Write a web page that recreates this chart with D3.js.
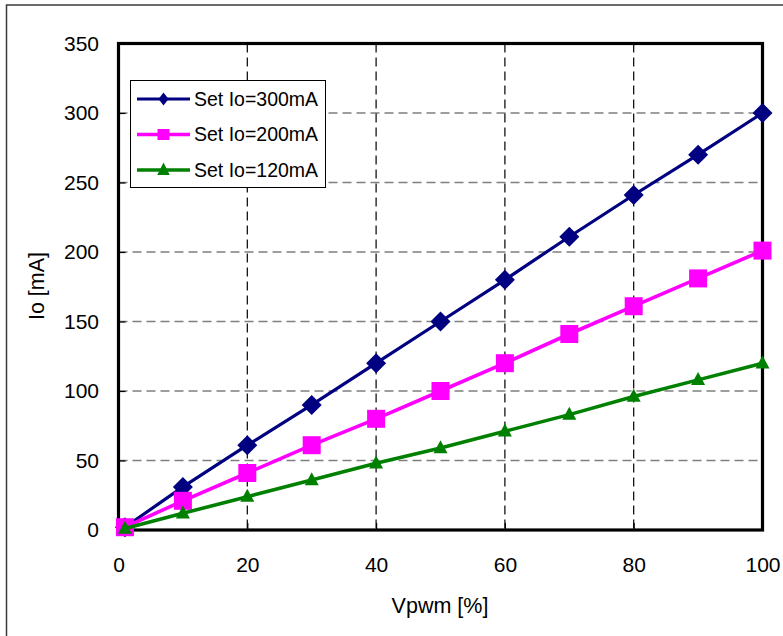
<!DOCTYPE html>
<html>
<head>
<meta charset="utf-8">
<script src="https://cdn.jsdelivr.net/npm/d3@7"></script>
<style>
  html, body { margin: 0; padding: 0; background: #fff; }
  svg { display: block; font-family: Arial, "Liberation Sans", sans-serif; }
</style>
</head>
<body>
<svg id="chart" width="783" height="636"></svg>
<script>
// ---- data ----
const vpwm = [1, 10, 20, 30, 40, 50, 60, 70, 80, 90, 100];
const io300 = [2, 31, 61, 90, 120, 150, 180, 211, 241, 270, 300];
const io200 = [2, 21, 41, 61, 80, 100, 120, 141, 161, 181, 201];
const io120 = [1, 12, 24, 36, 48, 59, 71, 83, 96, 108, 120];
const seriesNames = ["Set Io=300mA", "Set Io=200mA", "Set Io=120mA"];
const xTicks = [0, 20, 40, 60, 80, 100];
const yTicks = [0, 50, 100, 150, 200, 250, 300, 350];
const xTitle = "Vpwm [%]";
const yTitle = "Io [mA]";

// ---- styles ----
const colors = ["#000080", "#FF00FF", "#008000"];
const shapes = ["diamond", "square", "triangle"];
const seriesValues = [io300, io200, io120];

const svg = d3.select("#chart");
const L = 118.5, R = 762.5, T = 43.5, B = 530;
const x = d3.scaleLinear().domain([0, 100]).range([L, R]);
const y = d3.scaleLinear().domain([0, 350]).range([B, T]);

// outer frame
svg.append("rect").attr("x", 6.5).attr("y", 5).attr("width", 900).attr("height", 900)
  .attr("fill", "#fff").attr("stroke", "#3a3a3a").attr("stroke-width", 1.5);

// plot background
svg.append("rect").attr("x", L).attr("y", T).attr("width", R - L).attr("height", B - T).attr("fill", "#fff");

// grid
svg.append("g").selectAll("line").data(yTicks.filter(d => d > 0 && d < 350)).join("line")
  .attr("x1", L).attr("x2", R).attr("y1", d => y(d)).attr("y2", d => y(d))
  .attr("stroke", "#7f7f7f").attr("stroke-width", 1.3).attr("stroke-dasharray", "9,5");
svg.append("g").selectAll("line").data(xTicks.filter(d => d > 0 && d < 100)).join("line")
  .attr("x1", d => x(d)).attr("x2", d => x(d)).attr("y1", T).attr("y2", B)
  .attr("stroke", "#000").attr("stroke-width", 1.2).attr("stroke-dasharray", "9,5");

// axes
const yAxis = d3.axisLeft(y).tickValues(yTicks).tickSize(-7).tickPadding(19.5);
const gy = svg.append("g").attr("transform", `translate(${L},0)`).call(yAxis);
const xAxis = d3.axisBottom(x).tickValues(xTicks).tickSize(-7).tickPadding(27);
const gx = svg.append("g").attr("transform", `translate(0,${B})`).call(xAxis);
[gx, gy].forEach(g => {
  g.select(".domain").remove();
  g.selectAll(".tick line").attr("stroke", "#000").attr("stroke-width", 1.2);
  g.selectAll(".tick text").attr("font-size", 21).attr("fill", "#000")
    .attr("font-family", "Arial, 'Liberation Sans', sans-serif");
});

// plot frame
svg.append("rect").attr("x", L).attr("y", T).attr("width", R - L).attr("height", B - T)
  .attr("fill", "none").attr("stroke", "#000").attr("stroke-width", 3.2);

// marker path generator
function markerPath(shape, cx, cy, s) {
  if (shape === "diamond") {
    const w = s.w / 2, h = s.h / 2;
    return `M${cx},${cy - h}L${cx + w},${cy}L${cx},${cy + h}L${cx - w},${cy}Z`;
  } else if (shape === "square") {
    const w = s.w / 2, h = s.h / 2;
    return `M${cx - w},${cy - h}H${cx + w}V${cy + h}H${cx - w}Z`;
  } else {
    const w = s.w / 2, h = s.h;
    return `M${cx},${cy - h * 0.6}L${cx + w},${cy + h * 0.4}L${cx - w},${cy + h * 0.4}Z`;
  }
}
const plotSizes = [{w: 20, h: 20}, {w: 18, h: 18}, {w: 14, h: 13}];
const legendSizes = [{w: 10, h: 13}, {w: 12, h: 11}, {w: 12.5, h: 12.5}];
const lineWidths = [3.2, 3.6, 3.6];

const line = d3.line().x(d => x(d[0])).y(d => y(d[1]));
seriesValues.forEach((vals, i) => {
  const pts = vpwm.map((v, j) => [v, vals[j]]);
  const g = svg.append("g");
  g.append("path").attr("d", line(pts)).attr("fill", "none")
    .attr("stroke", colors[i]).attr("stroke-width", lineWidths[i]).attr("stroke-linejoin", "round");
  g.selectAll("path.m").data(pts).join("path").attr("class", "m")
    .attr("d", d => markerPath(shapes[i], x(d[0]), y(d[1]), plotSizes[i]))
    .attr("fill", colors[i]);
});

// legend
const lg = svg.append("g");
lg.append("rect").attr("x", 130.5).attr("y", 80.5).attr("width", 195).attr("height", 107)
  .attr("fill", "#fff").attr("stroke", "#000").attr("stroke-width", 1);
const rowY = [99, 134.5, 170];
seriesNames.forEach((name, i) => {
  lg.append("line").attr("x1", 137).attr("x2", 190).attr("y1", rowY[i]).attr("y2", rowY[i])
    .attr("stroke", colors[i]).attr("stroke-width", lineWidths[i]);
  lg.append("path").attr("d", markerPath(shapes[i], 163.5, rowY[i], legendSizes[i])).attr("fill", colors[i]);
  lg.append("text").attr("x", 194).attr("y", rowY[i]).attr("dy", "0.35em")
    .attr("font-size", 19.5).attr("fill", "#000").text(name);
});

// axis titles
svg.append("text").attr("x", 440).attr("y", 613).attr("text-anchor", "middle")
  .attr("font-size", 21.5).attr("fill", "#000").text(xTitle);
svg.append("text").attr("transform", "translate(44,286) rotate(-90)").attr("text-anchor", "middle")
  .attr("font-size", 21.5).attr("fill", "#000").text(yTitle);
</script>
</body>
</html>
